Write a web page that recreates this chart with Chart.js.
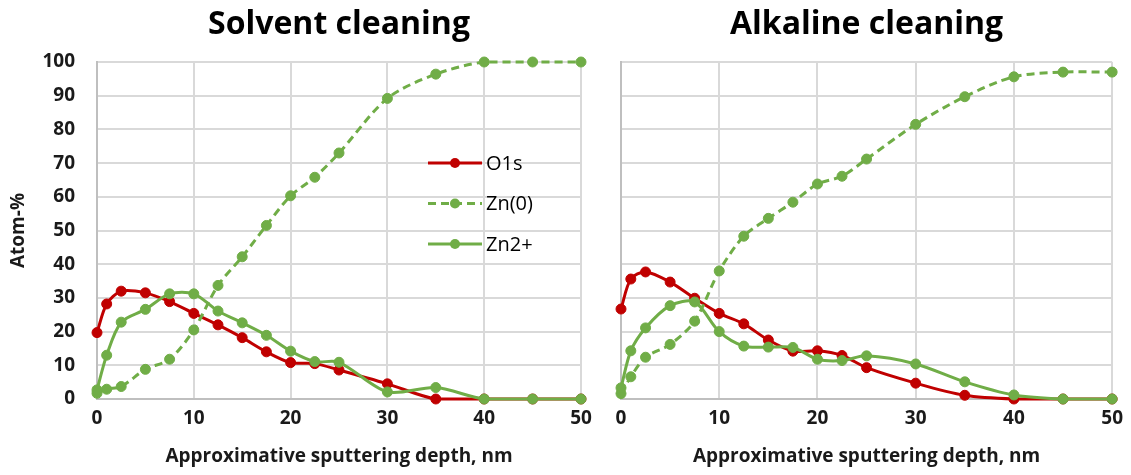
<!DOCTYPE html>
<html>
<head>
<meta charset="utf-8">
<script src="https://cdn.jsdelivr.net/npm/chart.js@4.4.1/dist/chart.umd.min.js"></script>
<style>
body { margin: 0; background: #fff; }
#wrap { position: relative; width: 1131px; height: 475px; }
#leftbox { position: absolute; left: 0; top: 0; width: 600px; height: 475px; }
#rightbox { position: absolute; left: 600px; top: 0; width: 531px; height: 475px; }
</style>
</head>
<body>
<div id="wrap">
  <div id="leftbox"><canvas id="solvent"></canvas></div>
  <div id="rightbox"><canvas id="alkaline"></canvas></div>
</div>
<script>
// sputtering depth, nm
var depth = [0, 1, 2.5, 5, 7.5, 10, 12.5, 15, 17.5, 20, 22.5, 25, 30, 35, 40, 45, 50];
var xTicks = [0, 10, 20, 30, 40, 50];
var yTicks = [0, 10, 20, 30, 40, 50, 60, 70, 80, 90, 100];
var seriesNames = ["O1s", "Zn(0)", "Zn2+"];

// Solvent cleaning
var solventO1s = [19.7, 28.2, 32.0, 31.5, 28.9, 25.4, 22.0, 18.2, 14.0, 10.8, 10.5, 8.6, 4.5, 0, 0, 0, 0];
var solventZn0 = [1.7, 2.9, 3.7, 8.8, 11.8, 20.5, 33.7, 42.2, 51.5, 60.3, 65.8, 73.0, 89.2, 96.4, 100, 100, 100];
var solventZn2 = [2.7, 13.0, 22.8, 26.6, 31.2, 31.2, 26.1, 22.6, 18.9, 14.2, 11.1, 10.9, 2.1, 3.4, 0, 0, 0];

// Alkaline cleaning
var alkalineO1s = [26.7, 35.6, 37.7, 34.7, 29.9, 25.4, 22.3, 17.5, 14.2, 14.3, 12.9, 9.3, 4.7, 1.1, 0, 0, 0];
var alkalineZn0 = [1.6, 6.6, 12.4, 16.2, 23.1, 38.0, 48.3, 53.6, 58.4, 63.8, 66.1, 71.2, 81.5, 89.7, 95.6, 97.0, 97.0];
var alkalineZn2 = [3.3, 14.3, 21.1, 27.7, 28.8, 20.0, 15.7, 15.4, 15.3, 11.8, 11.4, 12.8, 10.4, 5.1, 1.2, 0, 0];

var RED = "#c00000";
var GREEN = "#70ad47";
var GRID = "#d9d9d9";
var FONT = "'Open Sans', Lato, sans-serif";

function pts(vals) {
    return depth.map(function (d, i) { return { x: d, y: vals[i] }; });
}

function makeSets(o1s, zn0, zn2) {
    var base = { borderWidth: 3, pointRadius: 5, pointHoverRadius: 5, pointBorderWidth: 1, tension: 0.3, fill: false, clip: 8 };
    return [
        Object.assign({}, base, { label: seriesNames[0], data: pts(o1s), borderColor: RED, backgroundColor: RED, pointBackgroundColor: RED, pointBorderColor: RED, order: 3 }),
        Object.assign({}, base, { label: seriesNames[1], data: pts(zn0), borderColor: GREEN, backgroundColor: GREEN, pointBackgroundColor: GREEN, pointBorderColor: GREEN, borderDash: [8, 5], order: 2 }),
        Object.assign({}, base, { label: seriesNames[2], data: pts(zn2), borderColor: GREEN, backgroundColor: GREEN, pointBackgroundColor: GREEN, pointBorderColor: GREEN, order: 1 })
    ];
}

// legend drawn inside the plot area, like the Excel one
var innerLegend = {
    id: "innerLegend",
    afterDraw: function (chart, args, opts) {
        if (!opts.show) return;
        var ctx = chart.ctx;
        var area = chart.chartArea;
        var x0 = area.left + opts.dx;
        var y0 = area.top + opts.dy;
        ctx.save();
        seriesNames.forEach(function (name, i) {
            var ds = chart.data.datasets.find(function (d) { return d.label == name; });
            var y = y0 + i * opts.gap;
            ctx.strokeStyle = ds.borderColor;
            ctx.lineWidth = 3;
            ctx.setLineDash(ds.borderDash || []);
            ctx.beginPath();
            ctx.moveTo(x0, y);
            ctx.lineTo(x0 + 54, y);
            ctx.stroke();
            ctx.setLineDash([]);
            ctx.fillStyle = ds.borderColor;
            ctx.beginPath();
            ctx.arc(x0 + 27, y, 5, 0, Math.PI * 2);
            ctx.fill();
            ctx.fillStyle = "#000";
            ctx.font = "20px " + FONT;
            ctx.textBaseline = "middle";
            ctx.fillText(name, x0 + 58, y + 1);
        });
        ctx.restore();
    }
};

function makeChart(id, title, sets, isLeft) {
    return new Chart(document.getElementById(id), {
        type: "line",
        data: { datasets: sets },
        plugins: [innerLegend],
        options: {
            animation: false,
            responsive: true,
            maintainAspectRatio: false,
            layout: { padding: { left: 0, right: isLeft ? 19 : 15, top: 0, bottom: 0 } },
            plugins: {
                legend: { display: false },
                tooltip: { enabled: false },
                innerLegend: { show: isLeft, dx: 331, dy: 101, gap: 40.5 },
                title: {
                    display: true,
                    text: title,
                    fullSize: false,
                    color: "#000",
                    font: { family: FONT, size: 32, weight: "bold" },
                    padding: { top: 6, bottom: 17.6 }
                }
            },
            scales: {
                x: {
                    type: "linear",
                    min: 0,
                    max: 50,
                    afterBuildTicks: function (s) { s.ticks = xTicks.map(function (v) { return { value: v }; }); },
                    afterFit: function (s) { s.height = 76; },
                    grid: { color: GRID, lineWidth: 2, drawTicks: false },
                    border: { color: "#bfbfbf", width: 2 },
                    ticks: { color: "#1a1a1a", padding: 8, maxRotation: 0, font: { family: FONT, size: 19, weight: "bold" } },
                    title: {
                        display: true,
                        text: "Approximative sputtering depth, nm",
                        color: "#1a1a1a",
                        font: { family: FONT, size: 19, weight: "bold" },
                        padding: { top: 0, bottom: 6.6 }
                    }
                },
                y: {
                    min: 0,
                    max: 100,
                    afterBuildTicks: function (s) { s.ticks = yTicks.map(function (v) { return { value: v }; }); },
                    afterFit: function (s) { s.width = isLeft ? 97 : 21; },
                    grid: { color: GRID, lineWidth: 2, drawTicks: false },
                    border: { color: "#bfbfbf", width: 2 },
                    ticks: { display: isLeft, color: "#1a1a1a", padding: 22, font: { family: FONT, size: 19, weight: "bold" } },
                    title: {
                        display: isLeft,
                        text: "Atom-%",
                        color: "#1a1a1a",
                        font: { family: FONT, size: 19, weight: "bold" },
                        padding: { top: 7, bottom: 0 }
                    }
                }
            }
        }
    });
}

makeChart("solvent", "Solvent cleaning", makeSets(solventO1s, solventZn0, solventZn2), true);
makeChart("alkaline", "Alkaline cleaning", makeSets(alkalineO1s, alkalineZn0, alkalineZn2), false);
</script>
</body>
</html>
